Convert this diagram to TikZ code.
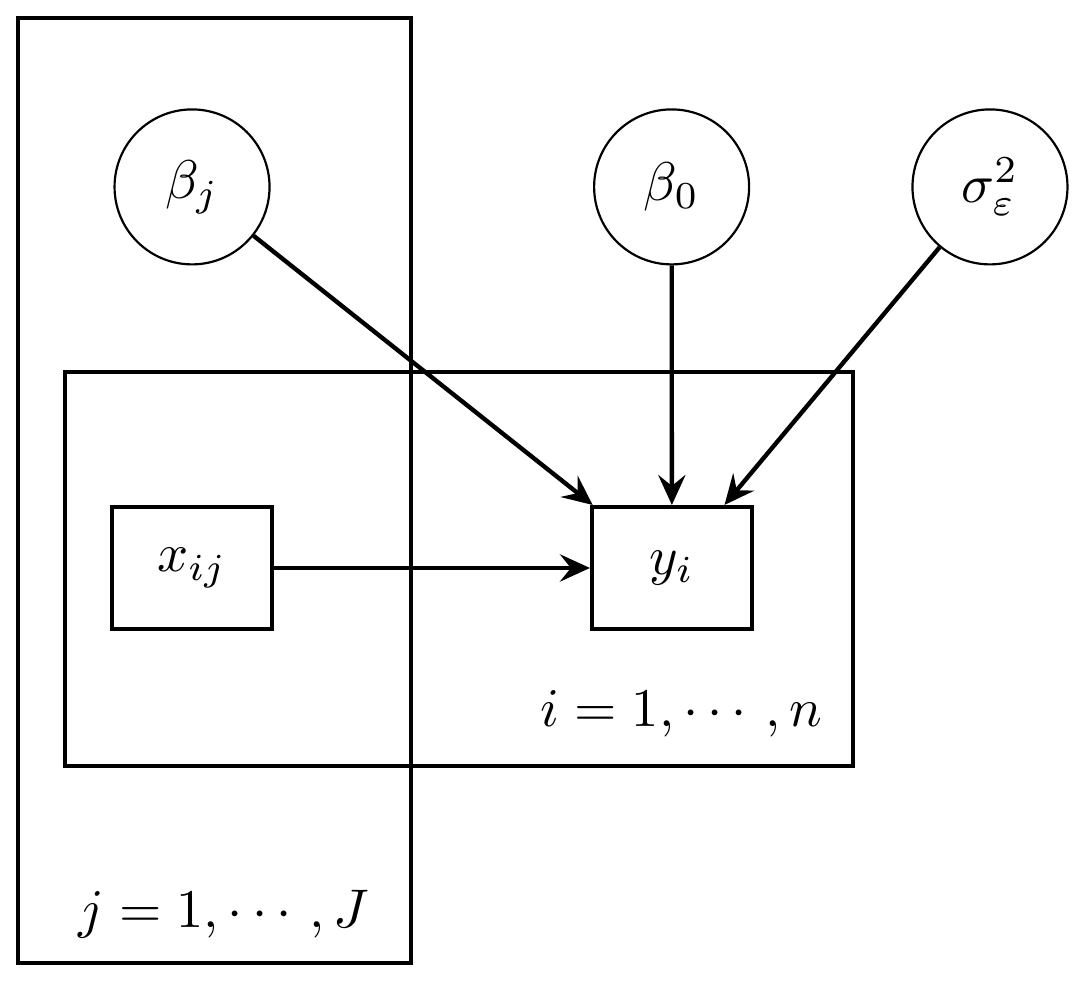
\documentclass[tikz,border=0pt]{standalone}
\usepackage{amsmath}
\usepackage{tikz}
\usetikzlibrary{positioning, arrows.meta}

\begin{document}
\begin{tikzpicture}
	% Define styles
	\tikzset{
		latent/.style={circle, draw, thin, minimum size=1cm, inner sep=0pt},
		observed/.style={rectangle, draw, thick, minimum width=1.03cm, minimum height=0.785cm, inner sep=0pt},
		line/.style={draw, thick, -{Stealth[length=5.5pt, width=5pt, inset=2pt]}},
		plate/.style={draw, thick}
	}
	\useasboundingbox (0,0) rectangle (7.0,-6.329);
	
	% Nodes
	\node[latent] (bj) at (1.239,-1.206) {$\beta_j$};
	\node[latent, right=2.08cm of bj] (b0) {$\beta_0$};
	\node[latent, right=1.04cm of b0] (sig) {$\sigma_\varepsilon^2$};
	
	\node[observed, below=1.545cm of bj] (xij) {$x_{ij}$};
	\node[observed, right=2.038cm of xij] (yi) {$y_i$};
	
	% Plates
	\draw[plate] (0.116,-0.116) rectangle (2.652,-6.213);
	\draw[plate] (0.419,-2.400) rectangle (5.503,-4.942);
	\node[anchor=base east, inner sep=0pt] (lbli) at (5.31,-4.690) {$i=1,\cdots,n$};
	\node[anchor=base east, inner sep=0pt] (lblj) at (2.39,-5.987) {$j=1,\cdots,J$};
	
	% Arrows
	\draw[line] (bj) -- (yi);
	\draw[line] (b0) -- (yi);
	\draw[line] (sig) -- (yi);
	\draw[line] (xij) -- (yi);
	
\end{tikzpicture}
\end{document}
